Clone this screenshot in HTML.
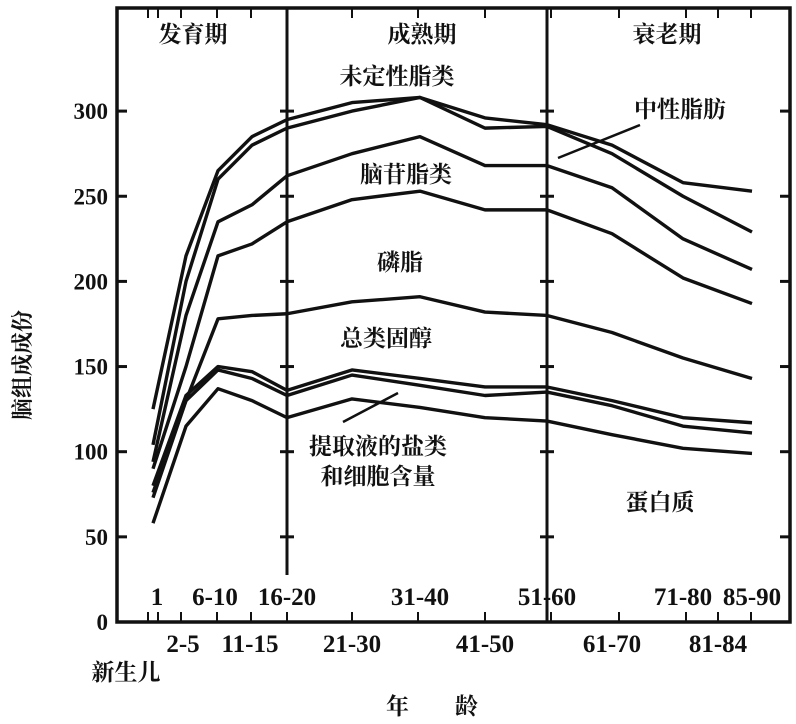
<!DOCTYPE html>
<html><head><meta charset="utf-8"><style>
html,body{margin:0;padding:0;background:#fff}
svg text{font-family:"Liberation Serif","Noto Serif CJK SC",serif;font-weight:bold;fill:#111}
</style></head><body>
<svg width="796" height="719" viewBox="0 0 796 719" xmlns="http://www.w3.org/2000/svg">
<g id="frame"></g>
<g id="ticks"></g>
<g id="lines"></g>
<g id="labels"></g>
</svg>
<script>
const categories=["新生儿","2-5","6-10","11-15","16-20","21-30","31-40","41-50","51-60","61-70","71-80","85-90"];
const catPos=[153,186,218,252,287,352,420,485,547,612,683,752];
const yTicks=[0,50,100,150,200,250,300];
const s1=[125,215,265,285,295,305,308,296,292,280,258,253];
const s2=[104,200,260,280,290,300,308,290,291,275,250,229];
const s3=[94,180,235,245,262,275,285,268,268,255,225,207];
const s4=[90,150,215,222,235,248,253,242,242,228,202,187];
const s5=[73,130,178,180,181,188,191,182,180,170,155,143];
const s6=[80,133,150,147,136,148,143,138,138,130,120,117];
const s7=[76,130,148,143,133,145,139,133,135,127,115,111];
const s8=[58,115,137,130,120,131,126,120,118,110,102,99];
const series=[s1,s2,s3,s4,s5,s6,s7,s8];
const NS="http://www.w3.org/2000/svg";
const y0=622,k=1.703;
function Y(v){return y0-v*k}
function X(i){return catPos[i]}
function mk(tag,attrs,parent,txt){const e=document.createElementNS(NS,tag);for(const a in attrs)e.setAttribute(a,attrs[a]);if(txt!==undefined)e.textContent=txt;parent.appendChild(e);return e}
const frame=document.getElementById('frame'),ticks=document.getElementById('ticks'),lines=document.getElementById('lines'),labels=document.getElementById('labels');
let r=mk('rect',{x:117,y:8,width:673,height:614,fill:'none',stroke:'#111','stroke-width':3.5},frame);

let d1=mk('line',{x1:287,y1:8,x2:287,y2:575,stroke:'#111','stroke-width':3},frame);

let d2=mk('line',{x1:547,y1:8,x2:547,y2:622,stroke:'#111','stroke-width':3},frame);

yTicks.forEach(v=>{
  const t=mk('text',{x:108,y:Y(v)+8,'text-anchor':'end','font-size':23},labels,String(v));
  
  if(v>0){[[117,127],[280,294],[540,554],[780,790]].forEach(p=>{
    const l=mk('line',{x1:p[0],y1:Y(v),x2:p[1],y2:Y(v),stroke:'#111','stroke-width':3},ticks);
    });}
});
[148,158,181,217,251,287,352,418,485,551,619,686,718,751].forEach(x=>{
  const l=mk('line',{x1:x,y1:612,x2:x,y2:622,stroke:'#111','stroke-width':2},ticks);
  
  const l2=mk('line',{x1:x,y1:8,x2:x,y2:18,stroke:'#111','stroke-width':2},ticks);
  
});
series.forEach((s,si)=>{
  const p=mk('polyline',{points:s.map((v,i)=>X(i)+','+Y(v)).join(' '),fill:'none',stroke:'#111','stroke-width':3.4,'stroke-linejoin':'round'},lines);
  
});
const txts=[
 [157,605,"1","x-label-1"],[215,605,"6-10","x-label-6-10"],[287,605,"16-20","x-label-16-20"],[420,605,"31-40","x-label-31-40"],
 [547,605,"51-60","x-label-51-60"],[683,605,"71-80","x-label-71-80"],[752,605,"85-90","x-label-85-90"],
 [183,652,"2-5","x-label-2-5"],[250,652,"11-15","x-label-11-15"],[352,652,"21-30","x-label-21-30"],[485,652,"41-50","x-label-41-50"],
 [612,652,"61-70","x-label-61-70"],[718,652,"81-84","x-label-81-84"],[126,680,"新生儿","x-label-newborn"],
 [432,714,"年　　龄","x-axis-title"],[193,42,"发育期","stage-development"],[422,42,"成熟期","stage-maturity"],[667,42,"衰老期","stage-aging"],
 [397,84,"未定性脂类","label-undetermined-lipids"],[406,182,"脑苷脂类","label-cerebrosides"],[400,270,"磷脂","label-phospholipids"],
 [386,346,"总类固醇","label-total-sterols"],[378,454,"提取液的盐类","label-extract-salts"],[378,484,"和细胞含量","label-cell-content"],
 [660,510,"蛋白质","label-protein"],[680,117,"中性脂肪","label-neutral-fat"]];
txts.forEach(t=>{
  const e=mk('text',{x:t[0],y:t[1],'text-anchor':'middle','font-size':t[3].startsWith('x-label')&&!t[3].includes('newborn')?25:23},labels,t[2]);
  
});
const yt=mk('text',{x:30,y:365,'text-anchor':'middle','font-size':22,transform:'rotate(-90 30 365)'},labels,"脑组成成份");

[[640,125,558,158],[398,393,343,422]].forEach((a,i)=>{
  const l=mk('line',{x1:a[0],y1:a[1],x2:a[2],y2:a[3],stroke:'#111','stroke-width':2.5},labels);
  
});
</script>
</body></html>
